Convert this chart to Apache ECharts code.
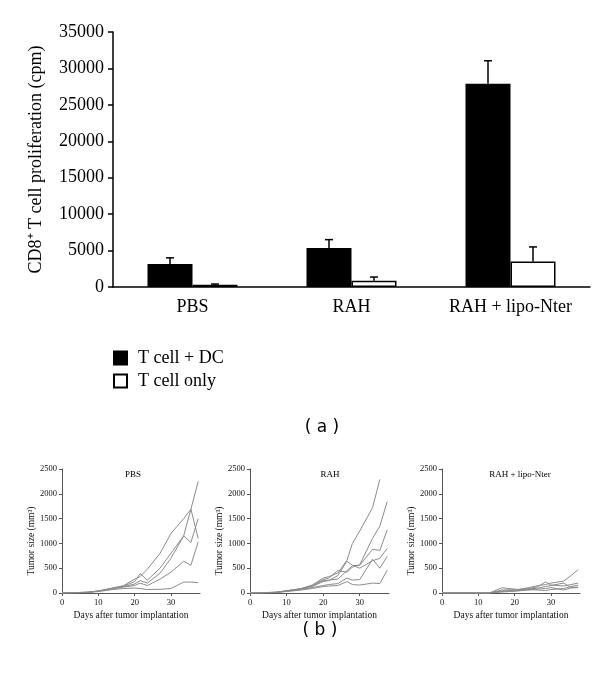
<!DOCTYPE html>
<html>
<head>
<meta charset="utf-8">
<title>CD8+ T cell proliferation / tumor size</title>
<script src="https://cdn.jsdelivr.net/npm/echarts@6.0.0/dist/echarts.min.js"></script>
<style>
  html, body { margin: 0; padding: 0; background: #fff; }
  #main { width: 600px; height: 673px; }
</style>
</head>
<body>
<div id="main"></div>
<script>
// (a) proliferation bars
var groups = ["PBS", "RAH", "RAH + lipo-Nter"];
var withDC = [3150, 5350, 27900];
var withDCErr = [850, 1150, 3150];
var tOnly = [320, 870, 3500];
var tOnlyErr = [90, 500, 2000];

// (b) tumor growth, one array per mouse
var pbsDays = [0, 7, 10, 14, 17, 20, 21.5, 23.5, 27, 30, 33.5, 35.5, 37.5];
var pbs1 = [0, 15, 40, 100, 150, 280, 330, 480, 800, 1200, 1500, 1690, 1100];
var pbs2 = [0, 15, 40, 100, 140, 230, 390, 260, 500, 800, 1150, 1690, 2250];
var pbs3 = [0, 15, 40, 90, 130, 180, 250, 200, 400, 700, 1150, 1020, 1500];
var pbs4 = [0, 12, 35, 85, 120, 150, 200, 150, 280, 420, 640, 560, 1030];
var pbs5 = [0, 10, 30, 70, 90, 100, 90, 70, 75, 90, 220, 220, 210];

var rahDays = [0, 7, 10, 14, 17, 20, 21.5, 24, 26.5, 28, 30, 33.5, 35.5, 37.5];
var rah1 = [0, 15, 45, 90, 160, 300, 330, 400, 660, 1000, 1250, 1720, 2290, null];
var rah2 = [0, 15, 45, 90, 150, 270, 300, 450, 420, 520, 570, 1100, 1350, 1840];
var rah3 = [0, 12, 40, 80, 140, 250, 260, 280, 450, 550, 560, 880, 860, 1270];
var rah4 = [0, 12, 40, 80, 130, 230, 250, 350, 640, 560, 500, 650, 700, 900];
var rah5 = [0, 10, 35, 70, 110, 150, 170, 190, 300, 260, 270, 680, 500, 740];
var rah6 = [0, 10, 30, 60, 90, 130, 140, 150, 230, 170, 160, 200, 190, 460];

var lipoDays = [0, 13, 16.5, 21, 24, 26.5, 28.5, 30, 33.5, 35.5, 37.5];
var lipo1 = [0, 0, 60, 70, 110, 150, 170, 200, 240, 350, 470];
var lipo2 = [0, 0, 105, 70, 90, 130, 225, 160, 140, 170, 200];
var lipo3 = [0, 0, 40, 60, 80, 100, 130, 150, 200, 110, 120];
var lipo4 = [0, 0, 30, 50, 60, 80, 90, 110, 60, 100, 110];
var lipo5 = [0, 0, 20, 40, 70, 60, 50, 70, 90, 130, 160];

var serif = "Liberation Serif";
var barW = 45;

function pairs(days, vals) {
  var out = [];
  for (var i = 0; i < days.length; i++) {
    if (vals[i] != null) out.push([days[i], vals[i]]);
  }
  return out;
}

// plain numbers, no thousands separator
function plain(v) { return String(v); }

// upward error bar with cap, shifted to the bar centre
function errRender(offset) {
  return function (params, api) {
    var base = api.coord([api.value(0), api.value(1)]);
    var top = api.coord([api.value(0), api.value(1) + api.value(2)]);
    var x = base[0] + offset;
    var st = { stroke: "#000", lineWidth: 1.5 };
    return {
      type: "group",
      children: [
        { type: "line", shape: { x1: x, y1: base[1], x2: x, y2: top[1] }, style: st },
        { type: "line", shape: { x1: x - 4, y1: top[1], x2: x + 4, y2: top[1] }, style: st }
      ]
    };
  };
}

function smallX(idx) {
  return {
    type: "value", gridIndex: idx, min: 0, max: 38, interval: 10,
    name: "Days after tumor implantation", nameLocation: "middle", nameGap: 17,
    nameTextStyle: { fontFamily: serif, fontSize: 9.5, color: "#111" },
    axisLine: { lineStyle: { color: "#555", width: 1 } },
    axisTick: { length: 3, lineStyle: { color: "#555" } },
    axisLabel: { fontFamily: serif, fontSize: 8.5, color: "#111", margin: 5, showMaxLabel: false, formatter: plain },
    splitLine: { show: false }
  };
}

function smallY(idx) {
  return {
    type: "value", gridIndex: idx, min: 0, max: 2500, interval: 500,
    name: "Tumor size (mm³)", nameLocation: "middle", nameGap: 25,
    nameTextStyle: { fontFamily: serif, fontSize: 9.5, color: "#111", padding: [0, 0, 0, -20] },
    axisLine: { show: true, lineStyle: { color: "#555", width: 1 } },
    axisTick: { show: true, length: 3, lineStyle: { color: "#555" } },
    axisLabel: { fontFamily: serif, fontSize: 8.5, color: "#111", margin: 5, formatter: plain },
    splitLine: { show: false }
  };
}

function mouse(days, vals, idx) {
  return {
    type: "line", xAxisIndex: idx, yAxisIndex: idx,
    data: pairs(days, vals), showSymbol: false, silent: true,
    lineStyle: { color: "#8c8c8c", width: 1 }
  };
}

var chartInstance = echarts.init(document.getElementById("main"));

var series = [
  {
    name: "T cell + DC", type: "bar", xAxisIndex: 0, yAxisIndex: 0,
    barWidth: barW, barGap: "0%", data: withDC,
    itemStyle: { color: "#000", borderColor: "#000", borderWidth: 1.5 }
  },
  {
    name: "T cell only", type: "bar", xAxisIndex: 0, yAxisIndex: 0,
    barWidth: barW, barGap: "0%", data: tOnly,
    itemStyle: { color: "#fff", borderColor: "#000", borderWidth: 1.5 }
  },
  {
    type: "custom", xAxisIndex: 0, yAxisIndex: 0, z: 3, silent: true,
    renderItem: errRender(-barW / 2),
    data: withDC.map(function (v, i) { return [i, v, withDCErr[i]]; })
  },
  {
    type: "custom", xAxisIndex: 0, yAxisIndex: 0, z: 3, silent: true,
    renderItem: errRender(barW / 2),
    data: tOnly.map(function (v, i) { return [i, v, tOnlyErr[i]]; })
  }
];

[pbs1, pbs2, pbs3, pbs4, pbs5].forEach(function (m) { series.push(mouse(pbsDays, m, 1)); });
[rah1, rah2, rah3, rah4, rah5, rah6].forEach(function (m) { series.push(mouse(rahDays, m, 2)); });
[lipo1, lipo2, lipo3, lipo4, lipo5].forEach(function (m) { series.push(mouse(lipoDays, m, 3)); });

function label(txt, x, y, font) {
  return {
    type: "text", x: x, y: y, silent: true,
    style: { text: txt, font: font, fill: "#000", align: "center", verticalAlign: "middle",
             textAlign: "center", textVerticalAlign: "middle" }
  };
}

var option = {
  animation: false,
  backgroundColor: "#fff",
  grid: [
    { left: 113, top: 32, width: 477, height: 255 },
    { left: 62, top: 469, width: 138, height: 124 },
    { left: 250, top: 469, width: 139, height: 124 },
    { left: 442, top: 469, width: 138, height: 124 }
  ],
  legend: {
    data: ["T cell + DC", "T cell only"],
    orient: "vertical", left: 113, top: 349, padding: 0,
    itemWidth: 13, itemHeight: 13, itemGap: 5, icon: "rect",
    textStyle: { fontFamily: serif, fontSize: 18, color: "#000", padding: [0, 0, 0, 6] }
  },
  xAxis: [
    {
      type: "category", gridIndex: 0, data: groups,
      axisLine: { lineStyle: { color: "#000", width: 1.5 } },
      axisTick: { show: false },
      axisLabel: { fontFamily: serif, fontSize: 18, color: "#000", margin: 11, interval: 0 }
    },
    smallX(1), smallX(2), smallX(3)
  ],
  yAxis: [
    {
      type: "value", gridIndex: 0, min: 0, max: 35000, interval: 5000,
      name: "CD8⁺ T cell proliferation (cpm)", nameLocation: "middle", nameGap: 68,
      nameTextStyle: { fontFamily: serif, fontSize: 18, color: "#000" },
      axisLine: { show: true, lineStyle: { color: "#000", width: 1.5 } },
      axisTick: { show: true, length: 5, lineStyle: { color: "#000", width: 1.5 } },
      axisLabel: { fontFamily: serif, fontSize: 18, color: "#000", margin: 9, formatter: plain },
      splitLine: { show: false }
    },
    smallY(1), smallY(2), smallY(3)
  ],
  graphic: [
    label("( a )", 322, 428, "17px 'DejaVu Sans'"),
    label("( b )", 320, 631, "17px 'DejaVu Sans'"),
    label("PBS", 133, 475, "9px 'Liberation Serif'"),
    label("RAH", 330, 475, "9px 'Liberation Serif'"),
    label("RAH + lipo-Nter", 520, 475, "9px 'Liberation Serif'")
  ],
  series: series
};

chartInstance.setOption(option);
</script>
</body>
</html>
